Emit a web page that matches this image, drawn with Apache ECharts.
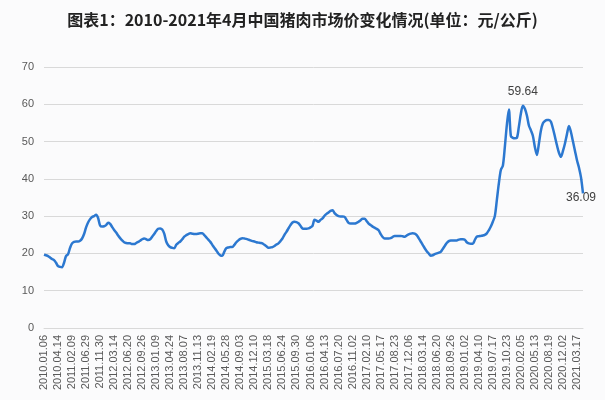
<!DOCTYPE html>
<html>
<head>
<meta charset="utf-8">
<script src="https://cdn.jsdelivr.net/npm/echarts@6/dist/echarts.min.js"></script>
<style>
html,body{margin:0;padding:0;background:#fbfbfc;}
#chart{width:605px;height:400px;}
</style>
</head>
<body>
<div id="chart"></div>
<script>
var titleText = '图表1：2010-2021年4月中国猪肉市场价变化情况(单位：元/公斤)';

// tick labels shown on the category axis (every 7th category)
var tickLabels = ['2010.01.06','2010.04.14','2011.02.09','2011.06.29','2011.11.30','2012.03.14','2012.06.20','2012.09.26',
  '2013.01.09','2013.04.24','2013.08.07','2013.11.13','2014.02.19','2014.05.28','2014.09.03','2014.12.10',
  '2015.03.18','2015.06.24','2015.09.30','2016.01.06','2016.04.13','2016.07.20','2016.11.02','2017.02.10',
  '2017.05.17','2017.08.23','2017.12.06','2018.03.14','2018.06.20','2018.09.26','2019.01.02','2019.04.10',
  '2019.07.17','2019.10.23','2020.02.05','2020.05.13','2020.08.19','2020.12.02','2021.03.17'];
var stepsPerTick = 7;
var trailingPoints = 3;

// pork price, 元/公斤
var prices = [
19.7,19.5,19.3,18.9,18.5,18.2,17.5,16.6,16.4,16.3,
17.5,19.3,19.8,21.5,22.7,23.1,23.2,23.2,23.4,24.0,
25.2,27.0,28.3,29.2,29.8,30.0,30.4,29.5,27.5,27.2,
27.3,27.6,28.2,27.9,27.1,26.3,25.6,24.8,24.1,23.5,
23.0,22.8,22.7,22.7,22.5,22.5,22.8,23.1,23.4,23.8,
24.0,23.8,23.6,23.8,24.5,25.2,26.0,26.6,26.7,26.4,
25.3,23.2,22.2,21.7,21.5,21.4,22.3,22.8,23.2,23.8,
24.5,24.9,25.2,25.4,25.3,25.2,25.2,25.3,25.4,25.4,
24.9,24.3,23.7,23.1,22.3,21.5,20.8,20.0,19.5,19.4,
20.5,21.4,21.6,21.7,21.7,22.3,23.0,23.5,23.9,24.1,
24.0,23.9,23.7,23.5,23.3,23.2,23.0,22.9,22.8,22.7,
22.3,21.9,21.5,21.6,21.7,22.0,22.4,22.7,23.3,24.0,
25.0,25.8,26.7,27.6,28.3,28.5,28.4,28.1,27.4,26.7,
26.6,26.6,26.7,27.0,27.4,29.0,28.8,28.5,29.0,29.4,
30.1,30.6,31.0,31.4,31.6,30.8,30.3,30.0,29.9,29.9,
29.8,29.0,28.2,28.0,28.0,28.0,28.2,28.5,28.9,29.3,
29.3,28.7,28.0,27.6,27.2,26.9,26.6,26.2,25.2,24.4,
24.0,24.0,24.0,24.1,24.4,24.7,24.7,24.7,24.7,24.6,
24.5,24.8,25.1,25.3,25.4,25.3,24.9,24.1,23.2,22.3,
21.4,20.6,20.0,19.4,19.5,19.8,20.0,20.2,20.4,21.2,
22.0,22.8,23.3,23.5,23.5,23.5,23.5,23.7,23.8,23.8,
23.7,23.0,22.7,22.6,22.6,23.6,24.5,24.6,24.7,24.8,
25.0,25.4,26.2,27.2,28.5,30.0,34.3,38.8,42.4,43.5,
48.6,54.5,58.6,51.5,51.0,50.9,51.0,54.0,57.5,59.64,
58.8,57.0,54.3,53.0,51.5,48.5,46.4,49.5,53.0,54.9,
55.5,55.8,55.8,55.3,53.5,51.3,49.0,47.0,45.9,47.5,
49.5,52.0,54.2,52.5,50.0,47.5,45.0,43.0,40.4,36.09
];

// build category list: each tick label followed by unlabeled steps
var categories = [];
tickLabels.forEach(function (d, i) {
  categories.push(d);
  var n = (i === tickLabels.length - 1) ? trailingPoints : stepsPerTick - 1;
  for (var k = 1; k <= n; k++) categories.push(d + '#' + k);
});

var maxIdx = 0;
prices.forEach(function (v, i) { if (v > prices[maxIdx]) maxIdx = i; });
var lastIdx = prices.length - 1;

var chart = echarts.init(document.getElementById('chart'), null, {renderer: 'canvas'});
chart.setOption({
  backgroundColor: '#fbfbfc',
  animation: false,
  title: {
    text: titleText,
    left: 'center',
    top: 7,
    textStyle: {fontFamily: 'Noto Sans CJK SC', fontSize: 16, fontWeight: 'bold', color: '#222222'}
  },
  grid: {left: 44, right: 22, top: 67, bottom: 72},
  xAxis: {
    type: 'category',
    data: categories,
    boundaryGap: false,
    axisLine: {lineStyle: {color: '#d9d9d9', width: 1}},
    axisTick: {show: false},
    axisLabel: {
      interval: stepsPerTick - 1,
      rotate: 90,
      margin: 7,
      color: '#595959',
      fontFamily: 'Liberation Sans',
      fontSize: 11
    },
    splitLine: {show: false}
  },
  yAxis: {
    type: 'value',
    min: 0,
    max: 70,
    interval: 10,
    axisLine: {show: false},
    axisTick: {show: false},
    axisLabel: {color: '#595959', fontFamily: 'Liberation Sans', fontSize: 11, margin: 10},
    splitLine: {lineStyle: {color: '#d9d9d9', width: 1}}
  },
  series: [{
    type: 'line',
    data: prices,
    showSymbol: false,
    smooth: 0.3,
    lineStyle: {color: '#2c78d0', width: 2.5},
    itemStyle: {color: '#2c78d0'},
    markPoint: {
      symbol: 'circle',
      symbolSize: 0,
      label: {show: true, color: '#404040', fontFamily: 'Liberation Sans', fontSize: 12},
      data: [
        {coord: [categories[maxIdx], prices[maxIdx]], value: prices[maxIdx],
         label: {position: 'top', distance: 8}},
        {coord: [categories[lastIdx], prices[lastIdx]], value: prices[lastIdx],
         label: {position: 'inside', offset: [-2, 4]}}
      ]
    }
  }]
});
</script>
</body>
</html>
